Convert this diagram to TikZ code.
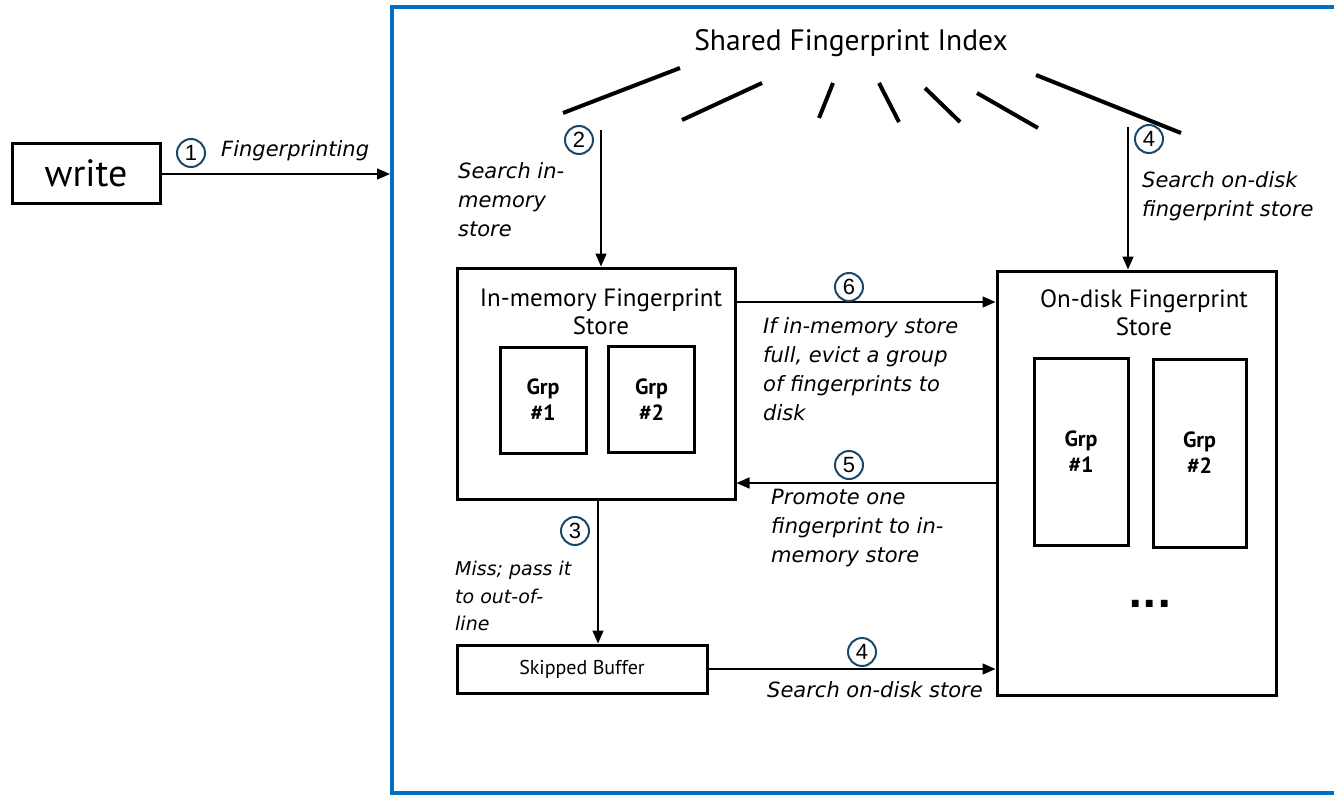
\documentclass[tikz,border=0pt]{standalone}
\usepackage{fontspec}
\setmainfont{PT Sans}
\newfontfamily\labelfont{DejaVu Sans}
\newfontfamily\numfont{Liberation Sans}
\usetikzlibrary{arrows.meta}
\definecolor{frameblue}{RGB}{0,112,192}
\definecolor{numblue}{RGB}{28,72,104}

\begin{document}
\begin{tikzpicture}[x=1pt,y=-1pt,
  box/.style={draw=black, line width=3pt, inner sep=0pt, rectangle},
  grp/.style={box, font=\fontsize{22}{26}\selectfont\bfseries, align=center,
              minimum width=86pt, minimum height=106pt},
  num/.style={circle, draw=numblue, line width=2pt, minimum size=28pt,
              inner sep=0pt, font=\numfont\fontsize{22}{22}\selectfont},
  lab/.style={font=\labelfont\itshape\fontsize{21}{29}\selectfont,
              align=left, anchor=north west, inner sep=0pt},
  title/.style={font=\fontsize{25}{28}\selectfont, align=center, inner sep=0pt},
  flow/.style={-{Triangle[length=13pt,width=11pt]}, line width=1.5pt},
  ray/.style={line width=4pt}]

\useasboundingbox (0,0) rectangle (1334,795);

% outer frame (open to the right)
\draw[frameblue, line width=4pt, line join=miter]
  (1334,7) -- (392,7) -- (392,793) -- (1334,793);

% write source
\node[box, minimum width=148pt, minimum height=60pt,
      font=\fontsize{38}{38}\selectfont] (write) at (86,173) {write};
\coordinate (frameIn) at (390,174);
\draw[flow] (write.east |- frameIn) -- (frameIn);
\node[num] (n1) at (191,153) {1};
\node[lab] (l1) at (221,140) {Fingerprinting};

% shared index with its spokes
\node[font=\fontsize{29.5}{30}\selectfont, inner sep=0pt] (index) at (851,43)
  {Shared Fingerprint Index};
\draw[ray] (563,113) -- (680,68);
\draw[ray] (682,120) -- (762,83);
\draw[ray] (819,118) -- (833,83);
\draw[ray] (879,83) -- (899,122);
\draw[ray] (925,88) -- (960,122);
\draw[ray] (977,93) -- (1038,128);
\draw[ray] (1036,75) -- (1181,133);

% in-memory store
\node[box, minimum width=278pt, minimum height=231pt] (mem) at (596,383.5) {};
\node[title] (memtitle) at (601,312) {In-memory Fingerprint\\Store};
\node[grp] (mg1) at (543,400) {Grp\\\#1};
\node[grp] (mg2) at (651.5,399.5) {Grp\\\#2};

% on-disk store
\node[box, minimum width=279pt, minimum height=424pt] (disk) at (1136.5,483) {};
\node[title] (disktitle) at (1144,313) {On-disk Fingerprint\\Store};
\node[grp, minimum width=94pt, minimum height=187pt] (dg1) at (1081,451.5) {Grp\\\#1};
\node[grp, minimum width=93pt, minimum height=188pt] (dg2) at (1199.5,453) {Grp\\\#2};
\node[font=\labelfont\bfseries\fontsize{38}{38}\selectfont, inner sep=0pt]
  (more) at (1150,604) {...};

% skipped buffer
\node[box, minimum width=250pt, minimum height=48pt,
      font=\fontsize{20}{22}\selectfont] (buf) at (582,669) {Skipped Buffer};

% step 2: search in-memory store
\coordinate (s2) at (601,130);
\draw[flow] (s2) -- (s2 |- mem.north);
\node[num] (n2) at (579,140) {2};
\node[lab] (l2) at (458,162) {Search in-\\memory\\store};

% step 4: search on-disk fingerprint store
\coordinate (s4) at (1128,127);
\draw[flow] (s4) -- (s4 |- disk.north);
\node[num] (n4a) at (1149,139) {4};
\node[lab] (l4a) at (1142,171) {Search on-disk\\fingerprint store};

% step 6: evict to disk
\coordinate (y6) at (850,302);
\draw[flow] (mem.east |- y6) -- (disk.west |- y6);
\node[num] (n6) at (849,287) {6};
\node[lab] (l6) at (763,317) {If in-memory store\\full, evict a group\\of fingerprints to\\disk};

% step 5: promote to memory
\coordinate (y5) at (850,483);
\draw[flow] (disk.west |- y5) -- (mem.east |- y5);
\node[num] (n5) at (849,465) {5};
\node[lab] (l5) at (771,489) {Promote one\\fingerprint to in-\\memory store};

% step 3: miss, out-of-line
\coordinate (x3) at (598,570);
\draw[flow] (mem.south -| x3) -- (buf.north -| x3);
\node[num] (n3) at (575,531) {3};
\node[lab, font=\labelfont\itshape\fontsize{19}{27.5}\selectfont] (l3) at (455,561)
  {Miss; pass it\\to out-of-\\line};

% step 4: search on-disk store from buffer
\draw[flow] (buf.east) -- (disk.west |- buf.east);
\node[num] (n4b) at (862,652) {4};
\node[lab] (l4b) at (767,681) {Search on-disk store};

\end{tikzpicture}
\end{document}
